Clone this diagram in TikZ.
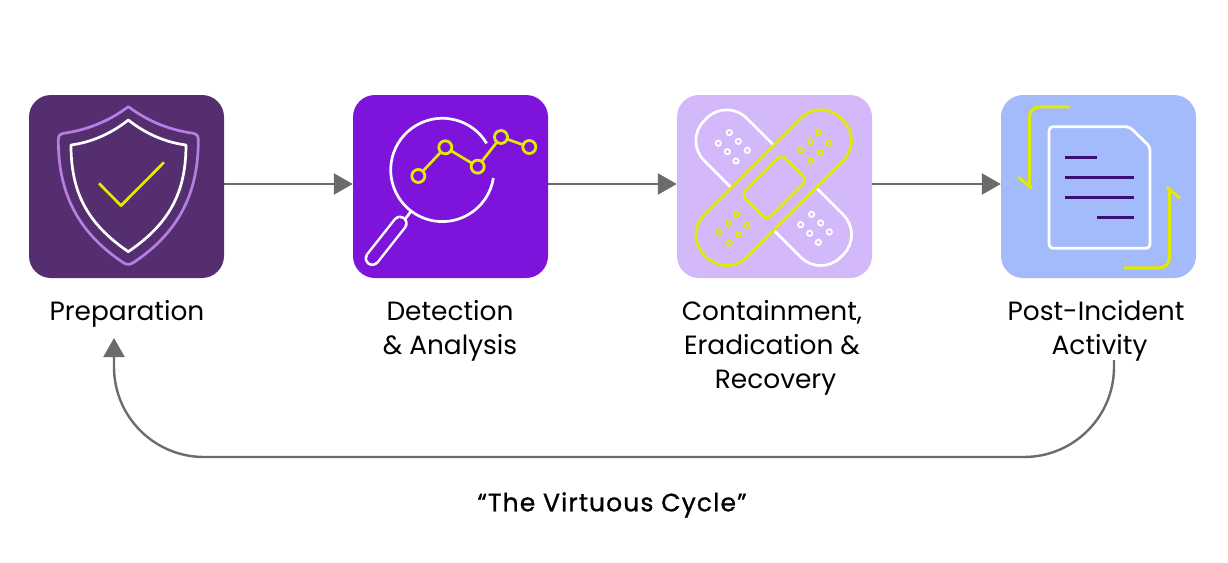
\documentclass[tikz,border=0pt]{standalone}
\usepackage{fontspec}
\setmainfont{Poppins}
\usetikzlibrary{arrows.meta}
\definecolor{prepcol}{HTML}{542E6F}
\definecolor{detcol}{HTML}{7E14DC}
\definecolor{contcol}{HTML}{D3B8FA}
\definecolor{postcol}{HTML}{A3BBFA}
\definecolor{shieldcol}{HTML}{B77FE3}
\definecolor{lime}{HTML}{E2EA00}
\definecolor{inkcol}{HTML}{3A1078}
\definecolor{flowcol}{HTML}{6B6B6B}
\tikzset{
    iconbox/.style={rectangle,rounded corners=22,minimum width=195,minimum height=183,inner sep=0},
    steplabel/.style={anchor=north,align=center,inner sep=0,text=black,font=\fontsize{26.4}{34}\selectfont},
    flow/.style={draw=flowcol,line width=2.4,-{Triangle[length=19,width=21]}},
    hair/.style={line width=2.7,line join=round},
    plaster/.style={rectangle,rotate=45,rounded corners=28,minimum width=193,minimum height=60,inner sep=0,line width=2.7},
}
\begin{document}
\begin{tikzpicture}[x=1pt,y=-1pt]
    \useasboundingbox (0,0) rectangle (1228,562);
    \node[iconbox,fill=prepcol] at (126.5,186.5) (prep) {};
    \node[iconbox,fill=detcol] at (450.5,186.5) (detect) {};
    \node[iconbox,fill=contcol] at (774.5,186.5) (contain) {};
    \node[iconbox,fill=postcol] at (1098.5,186.5) (post) {};
    \draw[flow] ([yshift=2.5]prep.east) -- ([yshift=2.5]detect.west);
    \draw[flow] ([yshift=2.5]detect.east) -- ([yshift=2.5]contain.west);
    \draw[flow] ([yshift=2.5]contain.east) -- ([yshift=2.5]post.west);

    \node[steplabel] at (127,300) (prepLabel) {Preparation};
    \node[steplabel] at (450,300) (detectLabel) {Detection\\ \& Analysis};
    \node[steplabel] at (772,300) (containLabel) {Containment,\\ Eradication \&\\ \ Recovery};
    \node[steplabel] at (1096,300) (postLabel) {Post-Incident\\ \ Activity};
    \node[font=\fontsize{25}{30}\selectfont\addfontfeature{LetterSpace=4.5,FakeBold=1},inner sep=0] at (612,505) (cycleLabel) {“The Virtuous Cycle”};

    % long way back
    \coordinate (cycleStart) at (1114,360);
    \coordinate (cycleEnd) at (114,338);
    \coordinate (cornerR) at (1114,457);
    \coordinate (cornerL) at (114,457);
    \draw[flow,rounded corners=90] (cycleStart) -- (cornerR) -- (cornerL) -- (cycleEnd);

    % shield
    \begin{scope}[shift={(20,85)},x=.3333pt,y=-.3333pt]
        \draw[shieldcol,hair] (325,65) .. controls (385,110) and (450,135) .. (520,145)
            .. controls (532,147) and (535,155) .. (535,165)
            .. controls (535,320) and (480,440) .. (340,533)
            .. controls (330,540) and (320,540) .. (310,533)
            .. controls (170,440) and (115,320) .. (115,165)
            .. controls (115,155) and (118,147) .. (130,145)
            .. controls (200,135) and (265,110) .. (325,65) -- cycle;
        \draw[white,hair] (325,105) .. controls (375,145) and (435,172) .. (498,180)
            .. controls (498,320) and (450,415) .. (325,500)
            .. controls (200,415) and (153,320) .. (153,180)
            .. controls (215,172) and (275,145) .. (325,105) -- cycle;
        \draw[lime,hair] (237,295) -- (303,362) -- (432,232);
    \end{scope}

    % magnifier
    \begin{scope}[shift={(345,85)},x=.3333pt,y=-.3333pt]
        \draw[white,hair] (425,175) arc[start angle=-31,end angle=-351,radius=155];
        \draw[white,hair] (197,380) -- (180,403);
        \draw[white,line width=15.5,line cap=round] (165,415) -- (82,520);
        \draw[detcol,line width=10.5,line cap=round] (165,415) -- (82,520);
        \draw[lime,hair] (220,273) -- (301,187) -- (398,245) -- (468,156) -- (553,186);
        \foreach \cx/\cy in {220/273,301/187,398/245,468/156,553/186}
            \node[circle,draw=lime,fill=detcol,line width=2.8,minimum size=13,inner sep=0] at (\cx,\cy) {};
    \end{scope}

    % plasters
    \node[plaster,draw=white,rotate=90] at (773.7,187.7) (plasterB) {};
    \node[plaster,draw=lime,fill=contcol] at (773.7,187.7) (plasterA) {};
    \node[rectangle,rotate=45,draw=lime,line width=2.7,rounded corners=6,minimum width=57,minimum height=36,inner sep=0] at (774.3,187.3) (padA) {};
    \begin{scope}[shift={(670,85)},x=.3333pt,y=-.3333pt]
        \foreach \cx/\cy in {178/143,205/169,232/196,145/175,172/200,198/228,425/388,452/414,478/441,392/419,419/445,445/472}
            \draw[white,line width=1.8] (\cx,\cy) circle[radius=8];
        \foreach \cx/\cy in {446/142,421/170,393/195,477/175,451/203,423/228,200/388,175/415,147/441,231/421,205/448,178/474}
            \draw[lime,line width=1.8] (\cx,\cy) circle[radius=8];
    \end{scope}

    % document
    \begin{scope}[shift={(990,85)},x=.3333pt,y=-.3333pt]
        \draw[white,line width=2.8,line join=round,rounded corners=4] (177,125) -- (418,125) -- (480,185) -- (480,490) -- (177,490) -- cycle;
        \draw[inkcol,hair] (224,217) -- (320,217);
        \draw[inkcol,hair] (224,277) -- (432,277);
        \draw[inkcol,hair] (224,337) -- (432,337);
        \draw[inkcol,hair] (321,397) -- (432,397);
        \draw[lime,line width=3,rounded corners=10] (240,66) -- (118,66) -- (118,308);
        \draw[lime,line width=3] (85,276) -- (125,310);
        \draw[lime,line width=3,rounded corners=10] (402,549) -- (538,549) -- (538,308);
        \draw[lime,line width=3] (570,340) -- (530,306);
    \end{scope}
\end{tikzpicture}
\end{document}
